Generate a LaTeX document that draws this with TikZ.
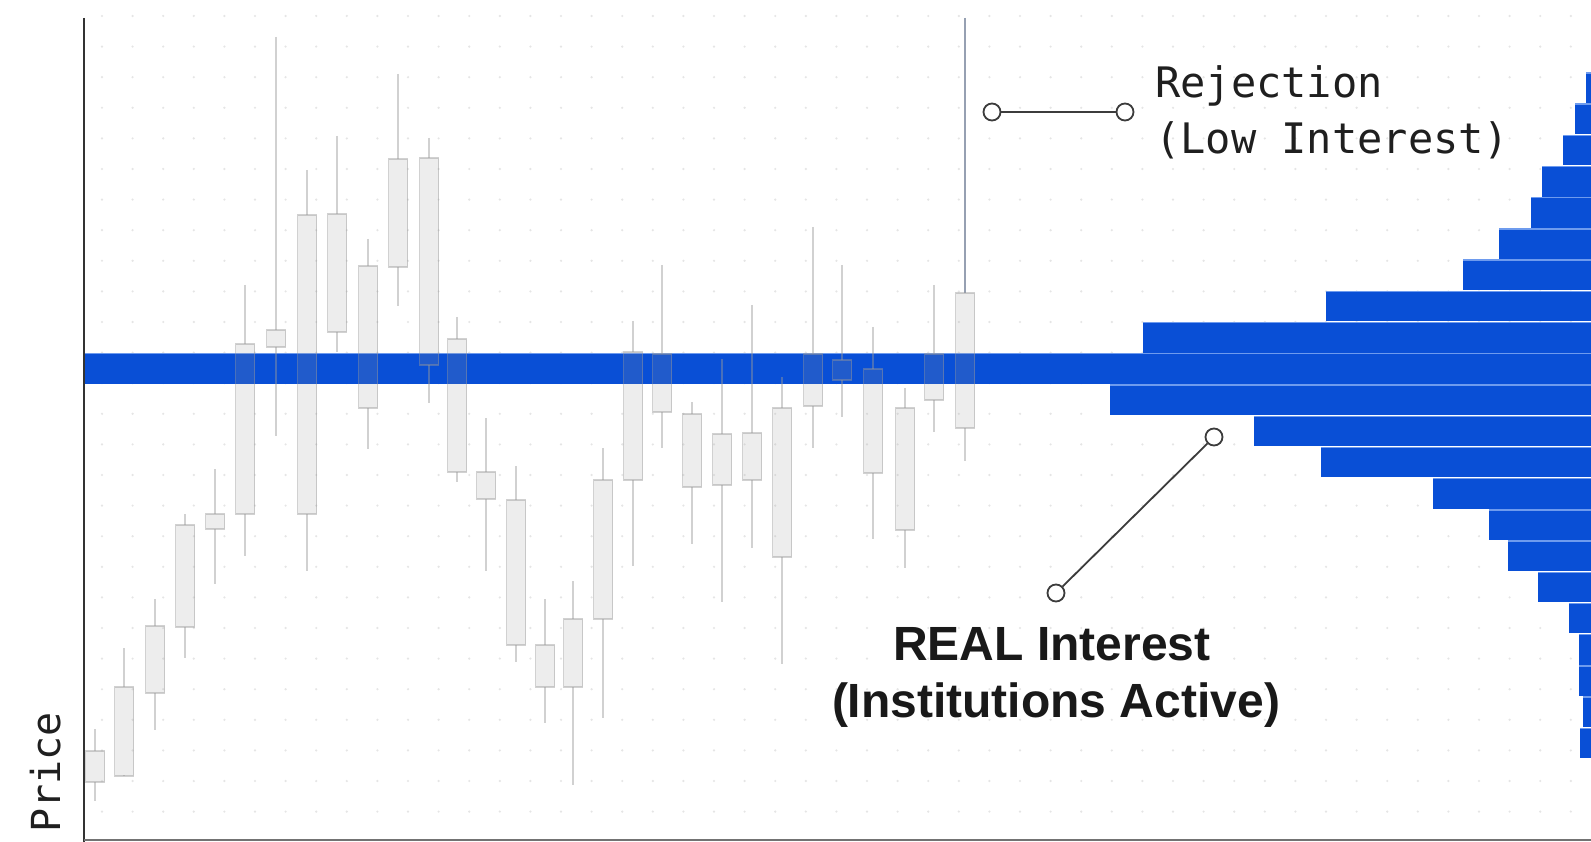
\documentclass[tikz,border=0pt]{standalone}
\usepackage{fontspec}
\setmainfont{Liberation Sans}
\newfontfamily\monofamily{DejaVu Sans Mono}

\definecolor{volblue}{RGB}{9,79,214}
\definecolor{voledge}{RGB}{110,155,238}
\definecolor{leadgray}{RGB}{60,60,60}
\definecolor{spikegray}{RGB}{150,160,178}

\begin{document}
\begin{tikzpicture}[x=1pt,y=-1pt,
    candle/.style={draw=black!40,draw opacity=0.45,fill=black!40,fill opacity=0.17,line width=1.8pt},
    wick/.style={draw=black!40,draw opacity=0.45,line width=2pt},
    spikewick/.style={draw=spikegray,line width=2.4pt},
    volbar/.style={fill=volblue},
    voltop/.style={draw=voledge,line width=1.4pt},
    gridpt/.style={fill=black!10},
    pin/.style={circle,draw=leadgray,fill=white,line width=1.8pt,minimum size=17pt,inner sep=0pt},
    lead/.style={draw=leadgray,line width=1.8pt},
    monolbl/.style={font=\monofamily\fontsize{42}{50}\selectfont,text=black!88,inner sep=0pt},
    boldlbl/.style={font=\bfseries\fontsize{48}{57}\selectfont,text=black!90,inner sep=0pt}
]

\useasboundingbox (0,0) rectangle (1591,842);
\fill[white] (0,0) rectangle (1591,842);

% Dot grid
\foreach \i in {0,...,48}
  \foreach \j in {0,...,26}
    \fill[gridpt] ({102+30.6*\i},{16+30.6*\j}) circle (1.2);

% Volume profile (row 9 = point of control)
\foreach \k/\l in {0/1586,1/1575,2/1563,3/1542,4/1531,5/1499,6/1463,7/1326,8/1143,9/84,
                   10/1110,11/1254,12/1321,13/1433,14/1489,15/1508,16/1538,17/1569,18/1579,19/1579,20/1583,21/1580}{
  \fill[volbar] (\l,{73+31.2*\k}) rectangle (1591,{103+31.2*\k});
  \draw[voltop] (\l,{73+31.2*\k}) -- (1591,{73+31.2*\k});
}

% Candles: x / wick top / wick bottom / body top / body bottom
\foreach \cx/\wt/\wb/\bt/\bb in {95/729/801/751/782, 124/648/775/687/776, 155/599/730/626/693,
    185/514/658/525/627, 215/469/584/514/529, 245/285/556/344/514, 276/37/436/330/347,
    307/170/571/215/514, 337/136/352/214/332, 368/239/449/266/408, 398/74/306/159/267,
    429/138/403/158/365, 457/317/482/339/472, 486/418/571/472/499, 516/466/662/500/645,
    545/599/723/645/687, 573/581/785/619/687, 603/448/718/480/619, 633/321/566/352/480,
    662/265/448/354/412, 692/402/544/414/487, 722/359/602/434/485, 752/305/548/433/480,
    782/377/664/408/557, 813/227/448/354/406, 842/265/417/360/380, 873/327/539/369/473,
    905/388/568/408/530, 934/285/432/354/400}{
  \draw[wick] (\cx,\wt) -- (\cx,\bt);
  \draw[wick] (\cx,\bb) -- (\cx,\wb);
  \filldraw[candle] ({\cx-9.5},\bt) rectangle ({\cx+9.5},\bb);
}

% Rejection candle
\draw[spikewick] (965,18) -- (965,293);
\draw[wick] (965,428) -- (965,461);
\filldraw[candle] (955.5,293) rectangle (974.5,428);

% Axes
\draw[black!80,line width=2.4pt] (84,18) -- (84,842);
\draw[black!55,line width=2pt] (84,840) -- (1591,840);

% Leaders
\node[pin] (rejin) at (992,112) {};
\node[pin] (rejout) at (1125,112) {};
\draw[lead] (rejin) -- (rejout);

\node[pin] (realin) at (1214,437) {};
\node[pin] (realout) at (1056,593) {};
\draw[lead] (realin) -- (realout);

% Labels
\node[monolbl,anchor=base west] (rejtitle) at (1155,98) {Rejection};
\node[monolbl,anchor=base west] (rejsub) at (1155,154) {(Low Interest)};
\node[boldlbl,anchor=base] (realtitle) at (1052,660) {REAL Interest};
\node[boldlbl,anchor=base] (realsub) at (1056,717) {(Institutions Active)};
\node[monolbl,rotate=90,anchor=base east,font=\monofamily\fontsize{40}{48}\selectfont] (pricelbl) at (60,712) {Price};

\end{tikzpicture}
\end{document}
